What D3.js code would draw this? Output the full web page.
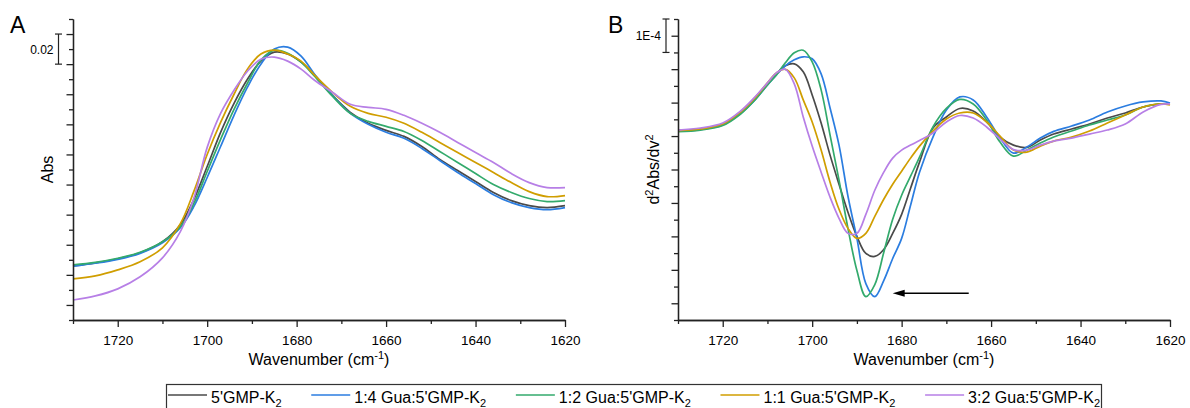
<!DOCTYPE html>
<html>
<head>
<meta charset="utf-8">
<script src="https://cdn.jsdelivr.net/npm/d3@7"></script>
<style>
    body { margin: 0; background: #fff; }
    svg text { font-family: "Liberation Sans", Arial, sans-serif; fill: #000; }
</style>
</head>
<body>
<svg id="chart" width="1190" height="408"></svg>
<script>
'use strict';

// series (legend order)
const seriesLabels = ["5'GMP-K", "1:4 Gua:5'GMP-K", "1:2 Gua:5'GMP-K", "1:1 Gua:5'GMP-K", "3:2 Gua:5'GMP-K"];
const seriesColors = ["#4a4a4a", "#2b7de0", "#33aa6c", "#d09e00", "#b77fe6"];

// panel A: absorbance, wavenumber in cm-1
const absWavenumber = [1730, 1725, 1720, 1715, 1710, 1706, 1703, 1700, 1697, 1694, 1691, 1688, 1685, 1682, 1679,
    1676, 1672, 1668, 1664, 1660, 1656, 1652, 1648, 1644, 1640, 1636, 1632, 1628, 1624, 1620];
const absGMP = [.0260, .0280, .0307, .0347, .0420, .0533, .0700, .0920, .1147, .1340, .1500, .1620, .1680, .1667, .1613,
    .1527, .1393, .1280, .1207, .1160, .1120, .1053, .0967, .0893, .0820, .0747, .0693, .0660, .0647, .0660];
const abs14 = [.0257, .0277, .0303, .0343, .0413, .0513, .0653, .0847, .1053, .1260, .1447, .1600, .1700, .1713, .1653,
    .1533, .1393, .1273, .1200, .1147, .1107, .1040, .0960, .0880, .0807, .0733, .0680, .0647, .0633, .0647];
const abs12 = [.0267, .0283, .0310, .0350, .0420, .0520, .0673, .0887, .1100, .1300, .1473, .1627, .1693, .1673, .1613,
    .1520, .1387, .1273, .1220, .1187, .1153, .1093, .1020, .0947, .0873, .0800, .0747, .0707, .0687, .0693];
const abs11 = [.0173, .0193, .0233, .0287, .0380, .0540, .0753, .1000, .1213, .1400, .1567, .1667, .1693, .1667, .1620,
    .1527, .1413, .1320, .1273, .1247, .1207, .1147, .1080, .1013, .0947, .0880, .0813, .0753, .0720, .0727];
const abs32 = [.0033, .0060, .0107, .0187, .0313, .0487, .0707, .1047, .1273, .1427, .1553, .1633, .1647, .1620, .1567,
    .1493, .1413, .1333, .1313, .1300, .1260, .1207, .1147, .1080, .1013, .0947, .0873, .0813, .0780, .0780];

// panel B: second derivative, values in units of 1E-6
const d2Wavenumber = [1730, 1725, 1720, 1716, 1713, 1710, 1708, 1706, 1704, 1702, 1700, 1698, 1696, 1694, 1692,
    1690, 1688, 1686, 1684, 1682, 1680, 1678, 1676, 1673, 1670, 1667, 1664, 1661, 1658, 1655,
    1652, 1649, 1646, 1642, 1638, 1634, 1630, 1626, 1622, 1620];
const d2GMP = [-283.5, -279, -265.5, -229.5, -192, -144, -114, -90, -84, -108, -177, -261, -357, -444, -528,
    -600, -651, -660, -639, -591, -534, -456, -378, -276, -243, -217.5, -225, -258, -303, -327,
    -334, -312, -294, -279, -264, -246, -231, -213, -204, -204];
const d2_14 = [-285, -280.5, -267, -232.5, -195, -147, -117, -90, -72, -63, -69, -114, -216, -327, -480,
    -606, -741, -780, -732, -666, -606, -507, -408, -303, -222, -183, -192, -243, -306, -351,
    -333, -306, -286, -270, -252, -228, -210, -198, -195, -201];
const d2_12 = [-286.5, -282, -268.5, -234, -195, -147, -117, -81, -51, -43.5, -78, -162, -297, -432, -576,
    -702, -780, -744, -648, -549, -477, -420, -363, -273, -217.5, -190.5, -204, -252, -318, -360,
    -342, -321, -303, -285, -267, -252, -237, -213, -204, -204];
const d2_11 = [-283.5, -279, -264, -228, -189, -141, -111, -100.5, -126, -192, -258, -342, -438, -519, -576,
    -606, -591, -540, -489, -444, -405, -366, -330, -285, -249, -231, -231, -258, -300, -342,
    -348, -330, -315, -303, -285, -261, -237, -213, -204, -207];
const d2_32 = [-282, -276, -261, -225, -186, -141, -111, -100.5, -144, -243, -330, -408, -483, -546, -591,
    -591, -534, -462, -408, -366, -342, -327, -313.5, -291, -258, -238.5, -246, -273, -309, -340.5,
    -342, -327, -315, -306, -294, -282, -264, -228, -205.5, -204];

// arrow in panel B (wavenumber, 1E-6 units)
const arrowFrom = [1665, -770];
const arrowTo = [1682, -770];

const xMajor = [1720, 1700, 1680, 1660, 1640, 1620];
const xMinor = [1730, 1710, 1690, 1670, 1650, 1630];

let svg = d3.select("#chart");

function drawPanel(p) {
    let g = svg.append("g");
    let x = d3.scaleLinear().domain([1730, 1620]).range([p.left, p.left + 492]);
    let y = d3.scaleLinear().domain(p.yDomain).range([320, 19]);

    let line = d3.line()
        .curve(d3.curveCatmullRom.alpha(0.5))
        .x(d => x(d[0]))
        .y(d => y(d[1]));

    p.series.forEach((vals, i) => {
        g.append("path")
            .attr("fill", "none")
            .attr("stroke", seriesColors[i])
            .attr("stroke-width", 1.7)
            .attr("d", line(p.wn.map((w, k) => [w, vals[k]])));
    });

    // x axis
    g.append("g")
        .attr("transform", "translate(0,320)")
        .call(d3.axisBottom(x).tickValues(xMinor).tickSize(4).tickSizeOuter(0).tickFormat(""));
    g.append("g")
        .attr("class", "xmaj")
        .attr("transform", "translate(0,320)")
        .call(d3.axisBottom(x).tickValues(xMajor).tickSize(7).tickSizeOuter(0).tickPadding(8)
            .tickFormat(d3.format("d")));

    // y axis, no tick labels
    g.append("g")
        .attr("transform", "translate(" + p.left + ",0)")
        .call(d3.axisLeft(y).tickValues(p.yMinor).tickSize(4).tickSizeOuter(0).tickFormat(""));
    g.append("g")
        .attr("transform", "translate(" + p.left + ",0)")
        .call(d3.axisLeft(y).tickValues(p.yMajor).tickSize(6.5).tickSizeOuter(0).tickFormat(""));

    g.selectAll(".domain, .tick line").attr("stroke", "#222").attr("stroke-width", 1.3);
    g.selectAll(".xmaj text")
        .attr("font-family", "Liberation Sans, Arial, sans-serif")
        .attr("font-size", 13.5)
        .attr("fill", "#000");

    // x title
    let xt = g.append("text")
        .attr("x", p.left + 246)
        .attr("y", 365)
        .attr("text-anchor", "middle")
        .attr("font-size", 16)
        .text("Wavenumber (cm");
    xt.append("tspan").attr("dy", -6).attr("font-size", 11).text("-1");
    xt.append("tspan").attr("dy", 6).text(")");

    // y title
    let yt = g.append("text")
        .attr("transform", "translate(" + p.titleX + ",169.5) rotate(-90)")
        .attr("text-anchor", "middle")
        .attr("font-size", 16);
    p.yTitle(yt);

    // panel letter
    g.append("text")
        .attr("x", p.left - p.letterDx)
        .attr("y", 33)
        .attr("font-size", 23)
        .text(p.letter);

    // scale bar
    let sb = g.append("g").attr("stroke", "#222").attr("stroke-width", 1.2);
    let y1 = y(p.bar[0]), y2 = y(p.bar[1]);
    sb.append("line").attr("x1", p.barX).attr("x2", p.barX).attr("y1", y1).attr("y2", y2);
    sb.append("line").attr("x1", p.barX - 3.5).attr("x2", p.barX + 3.5).attr("y1", y1).attr("y2", y1);
    sb.append("line").attr("x1", p.barX - 3.5).attr("x2", p.barX + 3.5).attr("y1", y2).attr("y2", y2);
    g.append("text")
        .attr("x", p.barX - 5)
        .attr("y", (y1 + y2) / 2 + 4.5)
        .attr("text-anchor", "end")
        .attr("font-size", 12)
        .text(p.barLabel);

    return {x: x, y: y, g: g};
}

drawPanel({
    left: 73, letter: "A", letterDx: 63,
    wn: absWavenumber,
    series: [absGMP, abs14, abs12, abs11, abs32],
    yDomain: [-0.01, 0.19],
    yMajor: d3.range(0, 10).map(i => i * 0.02),
    yMinor: d3.range(0, 11).map(i => -0.01 + i * 0.02),
    titleX: 53,
    yTitle: t => t.text("Abs"),
    bar: [0.18, 0.16], barX: 58.5, barLabel: "0.02"
});

let pb = drawPanel({
    left: 678, letter: "B", letterDx: 70,
    wn: d2Wavenumber,
    series: [d2GMP, d2_14, d2_12, d2_11, d2_32],
    yDomain: [-850, 50],
    yMajor: d3.range(0, 9).map(i => -i * 100),
    yMinor: d3.range(0, 10).map(i => 50 - i * 100),
    titleX: 659,
    yTitle: t => {
        t.append("tspan").text("d");
        t.append("tspan").attr("dy", -6).attr("font-size", 11).text("2");
        t.append("tspan").attr("dy", 6).text("Abs/dv");
        t.append("tspan").attr("dy", -6).attr("font-size", 11).text("2");
    },
    bar: [50, -50], barX: 666, barLabel: "1E-4"
});

// arrow
let ax1 = pb.x(arrowFrom[0]), ax2 = pb.x(arrowTo[0]), ay = pb.y(arrowFrom[1]);
pb.g.append("line")
    .attr("x1", ax1).attr("x2", ax2 + 8).attr("y1", ay).attr("y2", ay)
    .attr("stroke", "#000").attr("stroke-width", 1.4);
pb.g.append("path")
    .attr("d", "M" + ax2 + "," + ay + "L" + (ax2 + 12) + "," + (ay - 3.5) + "L" + (ax2 + 12) + "," + (ay + 3.5) + "Z")
    .attr("fill", "#000");

// legend
let leg = svg.append("g");
leg.append("rect")
    .attr("x", 166.5).attr("y", 384.5).attr("width", 935).attr("height", 30)
    .attr("fill", "none").attr("stroke", "#333").attr("stroke-width", 1.2);

let items = seriesLabels.map((s, i) => {
    let it = leg.append("g");
    it.append("line").attr("x1", 0).attr("x2", 39).attr("y1", 395).attr("y2", 395)
        .attr("stroke", seriesColors[i]).attr("stroke-width", 1.7);
    let t = it.append("text").attr("x", 43).attr("y", 402.5).attr("font-size", 16).text(s);
    t.append("tspan").attr("dy", 4).attr("font-size", 11).text("2");
    return {g: it, w: 43 + t.node().getComputedTextLength()};
});
let total = d3.sum(items, d => d.w);
let gap = (1100 - 168 - total) / (items.length - 1);
let cx = 168;
items.forEach(d => {
    d.g.attr("transform", "translate(" + cx + ",0)");
    cx += d.w + gap;
});
</script>
</body>
</html>
